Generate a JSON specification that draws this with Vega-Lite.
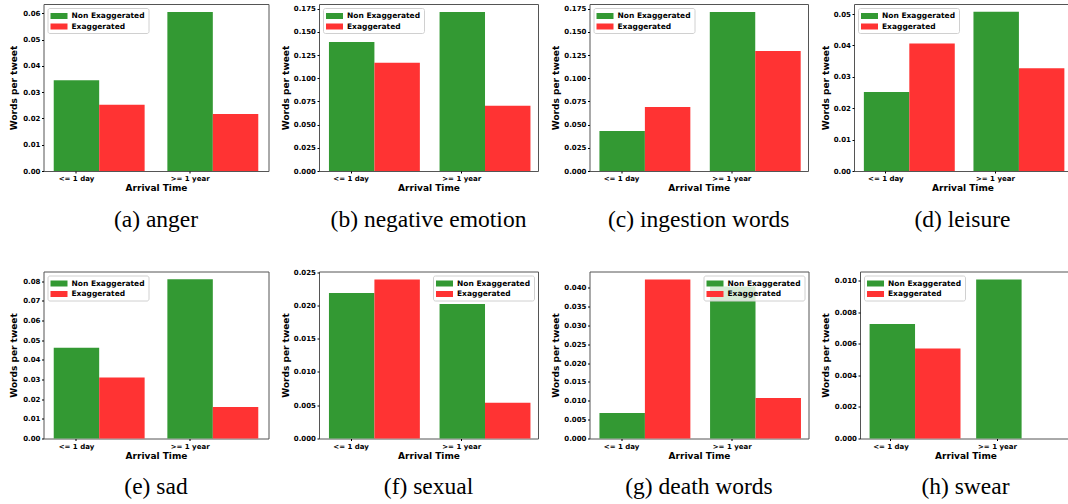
{
  "$schema": "https://vega.github.io/schema/vega-lite/v6.json",
  "background": "white",
  "padding": {"left": 8.5, "top": 3, "right": 0, "bottom": 0},
  "datasets": {
    "d": [
      {"panel": "anger", "time": "<= 1 day", "kind": "Non Exaggerated", "value": 0.0346},
      {"panel": "anger", "time": "<= 1 day", "kind": "Exaggerated", "value": 0.0252},
      {"panel": "anger", "time": ">= 1 year", "kind": "Non Exaggerated", "value": 0.0606},
      {"panel": "anger", "time": ">= 1 year", "kind": "Exaggerated", "value": 0.0217},
      {"panel": "negative emotion", "time": "<= 1 day", "kind": "Non Exaggerated", "value": 0.139},
      {"panel": "negative emotion", "time": "<= 1 day", "kind": "Exaggerated", "value": 0.1168},
      {"panel": "negative emotion", "time": ">= 1 year", "kind": "Non Exaggerated", "value": 0.1714},
      {"panel": "negative emotion", "time": ">= 1 year", "kind": "Exaggerated", "value": 0.0704},
      {"panel": "ingestion words", "time": "<= 1 day", "kind": "Non Exaggerated", "value": 0.0431},
      {"panel": "ingestion words", "time": "<= 1 day", "kind": "Exaggerated", "value": 0.069},
      {"panel": "ingestion words", "time": ">= 1 year", "kind": "Non Exaggerated", "value": 0.1714},
      {"panel": "ingestion words", "time": ">= 1 year", "kind": "Exaggerated", "value": 0.1294},
      {"panel": "leisure", "time": "<= 1 day", "kind": "Non Exaggerated", "value": 0.0252},
      {"panel": "leisure", "time": "<= 1 day", "kind": "Exaggerated", "value": 0.0406},
      {"panel": "leisure", "time": ">= 1 year", "kind": "Non Exaggerated", "value": 0.0507},
      {"panel": "leisure", "time": ">= 1 year", "kind": "Exaggerated", "value": 0.0327},
      {"panel": "sad", "time": "<= 1 day", "kind": "Non Exaggerated", "value": 0.0461},
      {"panel": "sad", "time": "<= 1 day", "kind": "Exaggerated", "value": 0.031},
      {"panel": "sad", "time": ">= 1 year", "kind": "Non Exaggerated", "value": 0.0809},
      {"panel": "sad", "time": ">= 1 year", "kind": "Exaggerated", "value": 0.016},
      {"panel": "sexual", "time": "<= 1 day", "kind": "Non Exaggerated", "value": 0.02186},
      {"panel": "sexual", "time": "<= 1 day", "kind": "Exaggerated", "value": 0.0239},
      {"panel": "sexual", "time": ">= 1 year", "kind": "Non Exaggerated", "value": 0.0202},
      {"panel": "sexual", "time": ">= 1 year", "kind": "Exaggerated", "value": 0.00538},
      {"panel": "death words", "time": "<= 1 day", "kind": "Non Exaggerated", "value": 0.00676},
      {"panel": "death words", "time": "<= 1 day", "kind": "Exaggerated", "value": 0.0422},
      {"panel": "death words", "time": ">= 1 year", "kind": "Non Exaggerated", "value": 0.0403},
      {"panel": "death words", "time": ">= 1 year", "kind": "Exaggerated", "value": 0.01076},
      {"panel": "swear", "time": "<= 1 day", "kind": "Non Exaggerated", "value": 0.00726},
      {"panel": "swear", "time": "<= 1 day", "kind": "Exaggerated", "value": 0.00572},
      {"panel": "swear", "time": ">= 1 year", "kind": "Non Exaggerated", "value": 0.0101},
      {"panel": "swear", "time": ">= 1 year", "kind": "Exaggerated", "value": 0}
    ]
  },
  "data": {"name": "d"},
  "config": {
    "view": {"stroke": "#555", "strokeWidth": 1},
    "axis": {
      "labelFont": "DejaVu Sans", "labelFontWeight": "bold", "labelFontSize": 7, "labelColor": "black",
      "titleFont": "DejaVu Sans", "titleFontWeight": "bold", "titleFontSize": 9, "titleColor": "black",
      "tickSize": 2, "tickColor": "black", "labelPadding": 1.5, "domain": false, "grid": false
    },
    "axisY": {"minExtent": 24, "maxExtent": 24, "titlePadding": 2},
    "axisX": {"labelAngle": 0, "bandPosition": 0.25, "titlePadding": 2},
    "legend": {
      "title": null, "offset": 4, "fillColor": "rgba(255,255,255,0.8)", "strokeColor": "#d0d0d0",
      "cornerRadius": 2, "padding": 3, "symbolType": "M-1.7,-0.6H1.7V0.6H-1.7Z", "symbolSize": 100,
      "symbolOffset": 3.5, "symbolStrokeWidth": 0, "symbolOpacity": 1,
      "labelFont": "DejaVu Sans", "labelFontWeight": "bold", "labelFontSize": 7.5, "labelColor": "black",
      "labelOffset": 7.5, "rowPadding": 1.5
    },
    "title": {"orient": "bottom", "font": "Liberation Serif", "fontSize": 23.5, "fontWeight": "normal", "color": "black", "offset": 15}
  },
  "resolve": {"legend": {"color": "independent"}, "scale": {"color": "independent", "y": "independent", "x": "independent"}},
  "spacing": 35.5,
  "vconcat": [
    {
      "spacing": 11.5,
      "resolve": {"legend": {"color": "independent"}, "scale": {"color": "independent", "y": "independent", "x": "independent"}},
      "hconcat": [
        {
          "width": 225, "height": 167, "title": "(a) anger",
          "transform": [{"filter": "datum.panel === 'anger'"}],
          "mark": "bar",
          "encoding": {
            "x": {"field": "time", "type": "nominal", "sort": ["<= 1 day", ">= 1 year"], "scale": {"paddingInner": 0.2, "paddingOuter": 0.09}, "axis": {"title": "Arrival Time", "labelOffset": -22.7}},
            "xOffset": {"field": "kind", "type": "nominal", "sort": ["Non Exaggerated", "Exaggerated"]},
            "y": {"field": "value", "type": "quantitative", "scale": {"domain": [0, 0.0636], "nice": false}, "axis": {"title": "Words per tweet", "titlePadding": 1.5, "values": [0, 0.01, 0.02, 0.03, 0.04, 0.05, 0.06], "format": ".2f"}},
            "color": {"field": "kind", "type": "nominal", "sort": ["Non Exaggerated", "Exaggerated"], "scale": {"domain": ["Non Exaggerated", "Exaggerated"], "range": ["#339933", "#ff3333"]}, "legend": {"orient": "top-left"}}
          }
        },
        {
          "width": 219, "height": 167, "title": "(b) negative emotion",
          "transform": [{"filter": "datum.panel === 'negative emotion'"}],
          "mark": "bar",
          "encoding": {
            "x": {"field": "time", "type": "nominal", "sort": ["<= 1 day", ">= 1 year"], "scale": {"paddingInner": 0.2, "paddingOuter": 0.09}, "axis": {"title": "Arrival Time", "labelOffset": -22.1}},
            "xOffset": {"field": "kind", "type": "nominal", "sort": ["Non Exaggerated", "Exaggerated"]},
            "y": {"field": "value", "type": "quantitative", "scale": {"domain": [0, 0.18], "nice": false}, "axis": {"title": "Words per tweet", "titlePadding": 4.5, "values": [0, 0.025, 0.05, 0.075, 0.1, 0.125, 0.15, 0.175], "format": ".3f"}},
            "color": {"field": "kind", "type": "nominal", "sort": ["Non Exaggerated", "Exaggerated"], "scale": {"domain": ["Non Exaggerated", "Exaggerated"], "range": ["#339933", "#ff3333"]}, "legend": {"orient": "top-left"}}
          }
        },
        {
          "width": 218.5, "height": 167, "title": "(c) ingestion words",
          "transform": [{"filter": "datum.panel === 'ingestion words'"}],
          "mark": "bar",
          "encoding": {
            "x": {"field": "time", "type": "nominal", "sort": ["<= 1 day", ">= 1 year"], "scale": {"paddingInner": 0.2, "paddingOuter": 0.09}, "axis": {"title": "Arrival Time", "labelOffset": -22.1}},
            "xOffset": {"field": "kind", "type": "nominal", "sort": ["Non Exaggerated", "Exaggerated"]},
            "y": {"field": "value", "type": "quantitative", "scale": {"domain": [0, 0.18], "nice": false}, "axis": {"title": "Words per tweet", "titlePadding": 5.5, "values": [0, 0.025, 0.05, 0.075, 0.1, 0.125, 0.15, 0.175], "format": ".3f"}},
            "color": {"field": "kind", "type": "nominal", "sort": ["Non Exaggerated", "Exaggerated"], "scale": {"domain": ["Non Exaggerated", "Exaggerated"], "range": ["#339933", "#ff3333"]}, "legend": {"orient": "top-left"}}
          }
        },
        {
          "width": 217, "height": 167, "title": "(d) leisure",
          "transform": [{"filter": "datum.panel === 'leisure'"}],
          "mark": "bar",
          "encoding": {
            "x": {"field": "time", "type": "nominal", "sort": ["<= 1 day", ">= 1 year"], "scale": {"paddingInner": 0.2, "paddingOuter": 0.09}, "axis": {"title": "Arrival Time", "labelOffset": -21.9}},
            "xOffset": {"field": "kind", "type": "nominal", "sort": ["Non Exaggerated", "Exaggerated"]},
            "y": {"field": "value", "type": "quantitative", "scale": {"domain": [0, 0.0532], "nice": false}, "axis": {"title": "Words per tweet", "titlePadding": 0, "values": [0, 0.01, 0.02, 0.03, 0.04, 0.05], "format": ".2f"}},
            "color": {"field": "kind", "type": "nominal", "sort": ["Non Exaggerated", "Exaggerated"], "scale": {"domain": ["Non Exaggerated", "Exaggerated"], "range": ["#339933", "#ff3333"]}, "legend": {"orient": "top-left"}}
          }
        }
      ]
    },
    {
      "spacing": 11.5,
      "resolve": {"legend": {"color": "independent"}, "scale": {"color": "independent", "y": "independent", "x": "independent"}},
      "hconcat": [
        {
          "width": 225, "height": 167, "title": "(e) sad",
          "transform": [{"filter": "datum.panel === 'sad'"}],
          "mark": "bar",
          "encoding": {
            "x": {"field": "time", "type": "nominal", "sort": ["<= 1 day", ">= 1 year"], "scale": {"paddingInner": 0.2, "paddingOuter": 0.09}, "axis": {"title": "Arrival Time", "labelOffset": -22.7}},
            "xOffset": {"field": "kind", "type": "nominal", "sort": ["Non Exaggerated", "Exaggerated"]},
            "y": {"field": "value", "type": "quantitative", "scale": {"domain": [0, 0.0849], "nice": false}, "axis": {"title": "Words per tweet", "titlePadding": 1.5, "values": [0, 0.01, 0.02, 0.03, 0.04, 0.05, 0.06, 0.07, 0.08], "format": ".2f"}},
            "color": {"field": "kind", "type": "nominal", "sort": ["Non Exaggerated", "Exaggerated"], "scale": {"domain": ["Non Exaggerated", "Exaggerated"], "range": ["#339933", "#ff3333"]}, "legend": {"orient": "top-left"}}
          }
        },
        {
          "width": 219, "height": 167, "title": "(f) sexual",
          "transform": [{"filter": "datum.panel === 'sexual'"}],
          "mark": "bar",
          "encoding": {
            "x": {"field": "time", "type": "nominal", "sort": ["<= 1 day", ">= 1 year"], "scale": {"paddingInner": 0.2, "paddingOuter": 0.09}, "axis": {"title": "Arrival Time", "labelOffset": -22.1}},
            "xOffset": {"field": "kind", "type": "nominal", "sort": ["Non Exaggerated", "Exaggerated"]},
            "y": {"field": "value", "type": "quantitative", "scale": {"domain": [0, 0.0251], "nice": false}, "axis": {"title": "Words per tweet", "titlePadding": 4.5, "values": [0, 0.005, 0.01, 0.015, 0.02, 0.025], "format": ".3f"}},
            "color": {"field": "kind", "type": "nominal", "sort": ["Non Exaggerated", "Exaggerated"], "scale": {"domain": ["Non Exaggerated", "Exaggerated"], "range": ["#339933", "#ff3333"]}, "legend": {"orient": "top-right"}}
          }
        },
        {
          "width": 219, "height": 167, "title": "(g) death words",
          "transform": [{"filter": "datum.panel === 'death words'"}],
          "mark": "bar",
          "encoding": {
            "x": {"field": "time", "type": "nominal", "sort": ["<= 1 day", ">= 1 year"], "scale": {"paddingInner": 0.2, "paddingOuter": 0.09}, "axis": {"title": "Arrival Time", "labelOffset": -22.1}},
            "xOffset": {"field": "kind", "type": "nominal", "sort": ["Non Exaggerated", "Exaggerated"]},
            "y": {"field": "value", "type": "quantitative", "scale": {"domain": [0, 0.0443], "nice": false}, "axis": {"title": "Words per tweet", "titlePadding": 5.5, "values": [0, 0.005, 0.01, 0.015, 0.02, 0.025, 0.03, 0.035, 0.04], "format": ".3f"}},
            "color": {"field": "kind", "type": "nominal", "sort": ["Non Exaggerated", "Exaggerated"], "scale": {"domain": ["Non Exaggerated", "Exaggerated"], "range": ["#339933", "#ff3333"]}, "legend": {"orient": "top-right"}}
          }
        },
        {
          "width": 211, "height": 167, "title": "(h) swear",
          "transform": [{"filter": "datum.panel === 'swear'"}],
          "mark": "bar",
          "encoding": {
            "x": {"field": "time", "type": "nominal", "sort": ["<= 1 day", ">= 1 year"], "scale": {"paddingInner": 0.2, "paddingOuter": 0.09}, "axis": {"title": "Arrival Time", "labelOffset": -21.3}},
            "xOffset": {"field": "kind", "type": "nominal", "sort": ["Non Exaggerated", "Exaggerated"]},
            "y": {"field": "value", "type": "quantitative", "scale": {"domain": [0, 0.0106], "nice": false}, "axis": {"title": "Words per tweet", "titlePadding": 5.5, "values": [0, 0.002, 0.004, 0.006, 0.008, 0.01], "format": ".3f"}},
            "color": {"field": "kind", "type": "nominal", "sort": ["Non Exaggerated", "Exaggerated"], "scale": {"domain": ["Non Exaggerated", "Exaggerated"], "range": ["#339933", "#ff3333"]}, "legend": {"orient": "top-left"}}
          }
        }
      ]
    }
  ]
}
